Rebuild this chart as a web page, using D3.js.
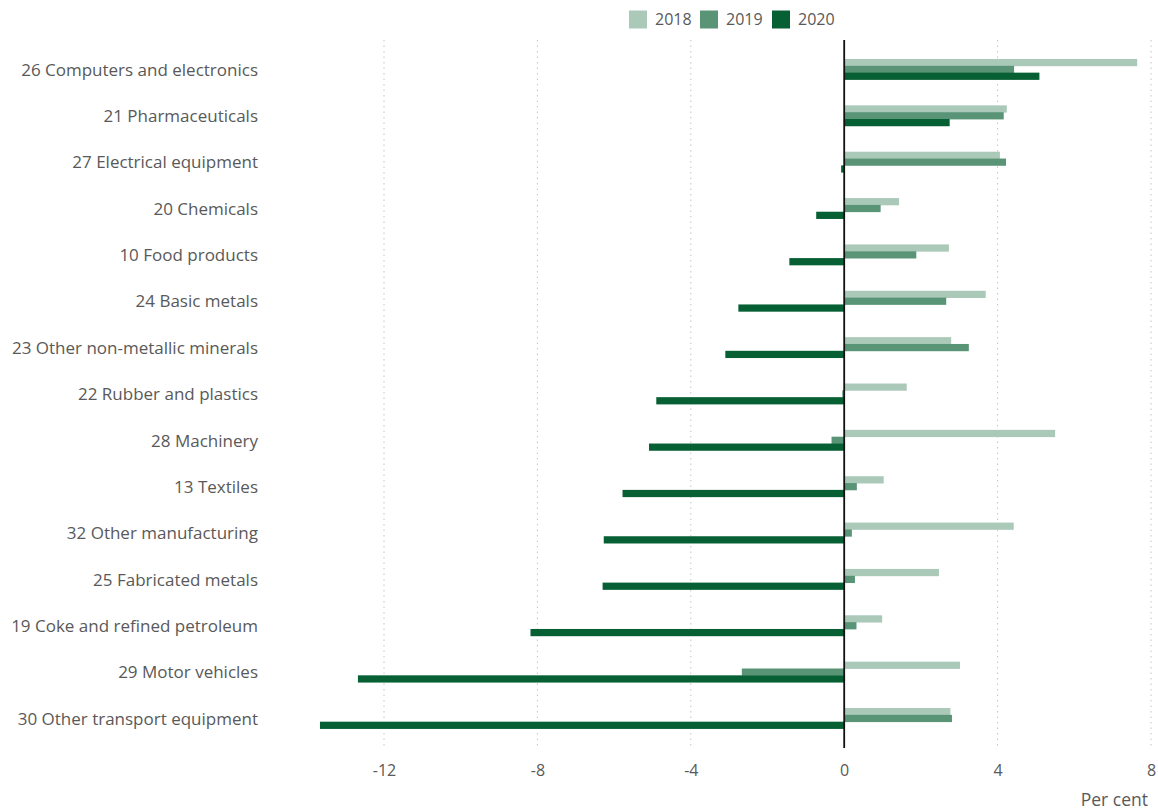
<!DOCTYPE html>
<html>
<head>
<meta charset="utf-8">
<script src="https://cdn.jsdelivr.net/npm/d3@7"></script>
<style>
  html, body { margin: 0; padding: 0; background: #fff; }
  svg { display: block; }
  text { font-family: "Open Sans", "Noto Sans", sans-serif; fill: #595959; }
</style>
</head>
<body>
<svg id="chart" width="1158" height="810"></svg>
<script>
// Manufacturing industries, annual change in output, per cent
const categories = [
  "26 Computers and electronics",
  "21 Pharmaceuticals",
  "27 Electrical equipment",
  "20 Chemicals",
  "10 Food products",
  "24 Basic metals",
  "23 Other non-metallic minerals",
  "22 Rubber and plastics",
  "28 Machinery",
  "13 Textiles",
  "32 Other manufacturing",
  "25 Fabricated metals",
  "19 Coke and refined petroleum",
  "29 Motor vehicles",
  "30 Other transport equipment"
];
const years = ["2018", "2019", "2020"];
const values2018 = [7.64, 4.24, 4.06, 1.43, 2.73, 3.69, 2.79, 1.63, 5.50, 1.03, 4.42, 2.47, 0.99, 3.02, 2.77];
const values2019 = [4.43, 4.16, 4.22, 0.95, 1.88, 2.66, 3.25, -0.05, -0.33, 0.33, 0.20, 0.28, 0.32, -2.67, 2.81];
const values2020 = [5.09, 2.75, -0.08, -0.73, -1.43, -2.76, -3.10, -4.90, -5.09, -5.78, -6.27, -6.30, -8.18, -12.68, -13.67];
const xTicks = [-12, -8, -4, 0, 4, 8];
const colors = ["#abc9b9", "#5a9477", "#075f34"];

const seriesValues = [values2018, values2019, values2020];

const svg = d3.select("#chart");

const x = d3.scaleLinear().domain([-12, 8]).range([384, 1151]);
const y = d3.scaleBand().domain(categories).range([46, 741.4]).padding(0);
const inner = d3.scaleBand().domain(years).range([-10.2, 10.3]).padding(0);

const plotTop = 40, plotBottom = 748;

// dotted vertical gridlines
svg.append("g")
  .selectAll("line")
  .data(xTicks.filter(t => t !== 0))
  .join("line")
  .attr("x1", d => x(d)).attr("x2", d => x(d))
  .attr("y1", plotTop).attr("y2", plotBottom)
  .attr("stroke", "#c4c4c4")
  .attr("stroke-width", 1)
  .attr("stroke-dasharray", "1.5,4");

// bars
years.forEach((yr, s) => {
  svg.append("g")
    .selectAll("rect")
    .data(categories.map((c, i) => ({ c, v: seriesValues[s][i] })))
    .join("rect")
    .attr("x", d => Math.min(x(0), x(d.v)))
    .attr("width", d => Math.abs(x(d.v) - x(0)))
    .attr("y", d => y(d.c) + y.bandwidth() / 2 + inner(yr))
    .attr("height", inner.bandwidth() + 0.4)
    .attr("fill", colors[s]);
});

// zero line
svg.append("line")
  .attr("x1", x(0)).attr("x2", x(0))
  .attr("y1", plotTop).attr("y2", plotBottom)
  .attr("stroke", "#111")
  .attr("stroke-width", 1.8);

// x axis tick labels (plain hyphen for negatives)
const xAxis = d3.axisBottom(x).tickValues(xTicks).tickSize(0).tickPadding(0).tickFormat(d => String(d));
const gx = svg.append("g").attr("transform", `translate(0, ${plotBottom + 14})`).call(xAxis);
gx.select(".domain").remove();
gx.selectAll("text")
  .attr("font-size", 16)
  .attr("dy", "0.85em")
  .style("font-family", "\"Open Sans\", sans-serif")
  .attr("fill", "#595959");

// category labels
const yAxis = d3.axisLeft(y).tickSize(0).tickPadding(0);
const gy = svg.append("g").attr("transform", "translate(258, 1)").call(yAxis);
gy.select(".domain").remove();
gy.selectAll("text")
  .attr("font-size", 17)
  .style("font-family", "\"Open Sans\", sans-serif")
  .attr("fill", "#595959");

// unit label
svg.append("text")
  .attr("x", 1148).attr("y", 806)
  .attr("text-anchor", "end")
  .attr("font-size", 17.5)
  .text("Per cent");

// legend
const legendX = [629, 700, 772];
const legend = svg.append("g");
years.forEach((yr, s) => {
  legend.append("rect")
    .attr("x", legendX[s]).attr("y", 10.5)
    .attr("width", 18).attr("height", 18)
    .attr("fill", colors[s]);
  legend.append("text")
    .attr("x", legendX[s] + 26).attr("y", 19.5)
    .attr("dy", "0.35em")
    .attr("font-size", 16)
    .text(yr);
});
</script>
</body>
</html>
